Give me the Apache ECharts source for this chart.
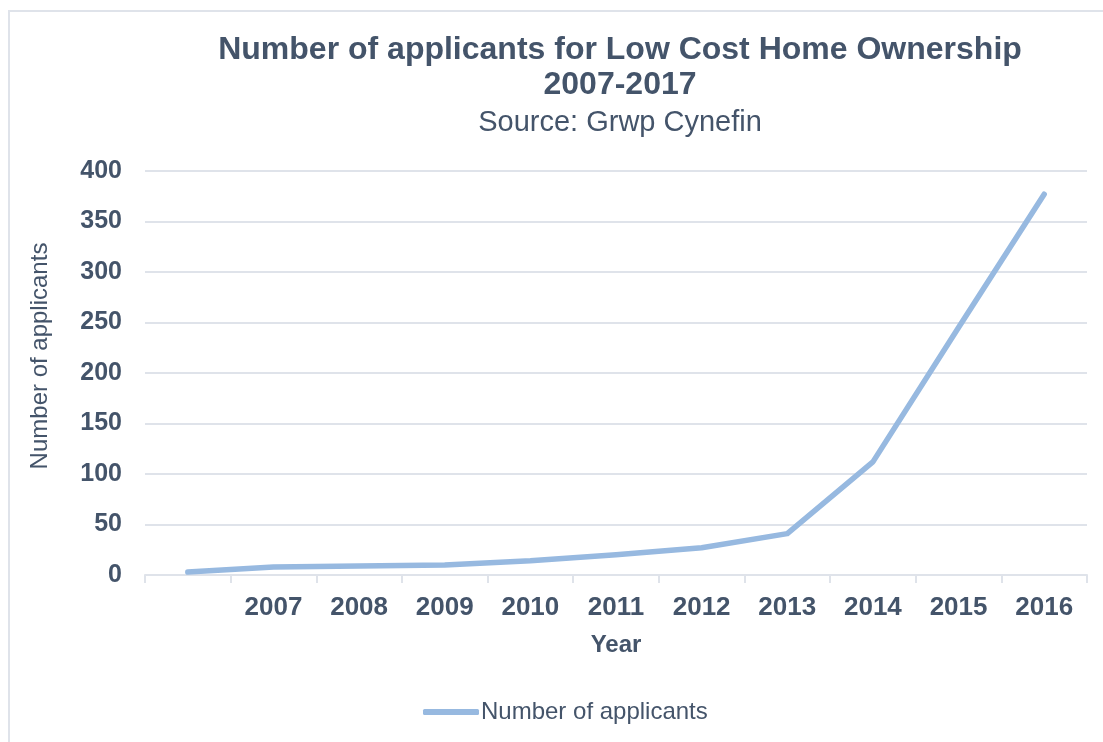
<!DOCTYPE html>
<html>
<head>
<meta charset="utf-8">
<style>
  html, body { margin: 0; padding: 0; background: #ffffff; }
  #chart { width: 1103px; height: 742px; }
</style>
<script src="https://cdn.jsdelivr.net/npm/echarts@6/dist/echarts.min.js"></script>
</head>
<body>
<div id="chart"></div>
<script>
// Applicants per year; the first slot carries no year label
const categories = ['', '2007', '2008', '2009', '2010', '2011', '2012', '2013', '2014', '2015', '2016'];
const applicants = [3, 8, 9, 10, 14, 20, 27, 41, 112, 245, 377];
const yTicks = { min: 0, max: 400, interval: 50 };

const TEXT = '#44546a';
const GRID = '#dfe3ea';
const LINE = '#97b9e0';
const FONT = '"Liberation Sans", Arial, sans-serif';

const chart = echarts.init(document.getElementById('chart'), null, { renderer: 'canvas' });

chart.setOption({
  backgroundColor: '#ffffff',
  animation: false,
  textStyle: { fontFamily: FONT, color: TEXT },
  title: [
    {
      text: 'Number of applicants for Low Cost Home Ownership\n2007-2017',
      left: 615, top: 28, textAlign: 'center',
      textStyle: { fontFamily: FONT, fontSize: 32, fontWeight: 'bold', color: TEXT, lineHeight: 35 }
    },
    {
      text: 'Source: Grwp Cynefin',
      left: 615, top: 103, textAlign: 'center',
      textStyle: { fontFamily: FONT, fontSize: 29, fontWeight: 'normal', color: TEXT }
    }
  ],
  graphic: [
    {
      type: 'rect', silent: true, z: -1,
      shape: { x: 9, y: 11, width: 1200, height: 800 },
      style: { fill: 'none', stroke: GRID, lineWidth: 2 }
    },
    {
      type: 'text', silent: true,
      x: 40, y: 356, rotation: Math.PI / 2,
      style: {
        text: 'Number of applicants', fontFamily: FONT, fontSize: 24,
        fill: TEXT, align: 'center', verticalAlign: 'middle'
      }
    }
  ],
  legend: {
    bottom: 13, left: 418,
    itemWidth: 56, itemHeight: 6, itemGap: 10,
    data: [{ name: 'Number of applicants', icon: 'roundRect' }],
    textStyle: { fontFamily: FONT, fontSize: 24, color: TEXT, padding: [0, 0, 0, -3] }
  },
  grid: { left: 145, right: 16, top: 171, bottom: 167, containLabel: false },
  xAxis: {
    type: 'category',
    data: categories,
    boundaryGap: true,
    name: 'Year',
    nameLocation: 'middle',
    nameGap: 58,
    nameTextStyle: { fontFamily: FONT, fontSize: 24, fontWeight: 'bold', color: TEXT },
    axisLine: { lineStyle: { color: GRID, width: 2 } },
    axisTick: { show: true, length: 8, lineStyle: { color: GRID, width: 2 } },
    axisLabel: { fontFamily: FONT, fontSize: 26, fontWeight: 'bold', color: TEXT, margin: 20 },
    splitLine: { show: false }
  },
  yAxis: {
    type: 'value',
    min: yTicks.min, max: yTicks.max, interval: yTicks.interval,
    axisLine: { show: false },
    axisTick: { show: false },
    axisLabel: { fontFamily: FONT, fontSize: 25, fontWeight: 'bold', color: TEXT, margin: 23 },
    splitLine: { lineStyle: { color: GRID, width: 2 } }
  },
  series: [
    {
      name: 'Number of applicants',
      type: 'line',
      data: applicants,
      symbol: 'none',
      smooth: false,
      lineStyle: { color: LINE, width: 5.5, cap: 'round', join: 'round' },
      itemStyle: { color: LINE }
    }
  ]
});
</script>
</body>
</html>
